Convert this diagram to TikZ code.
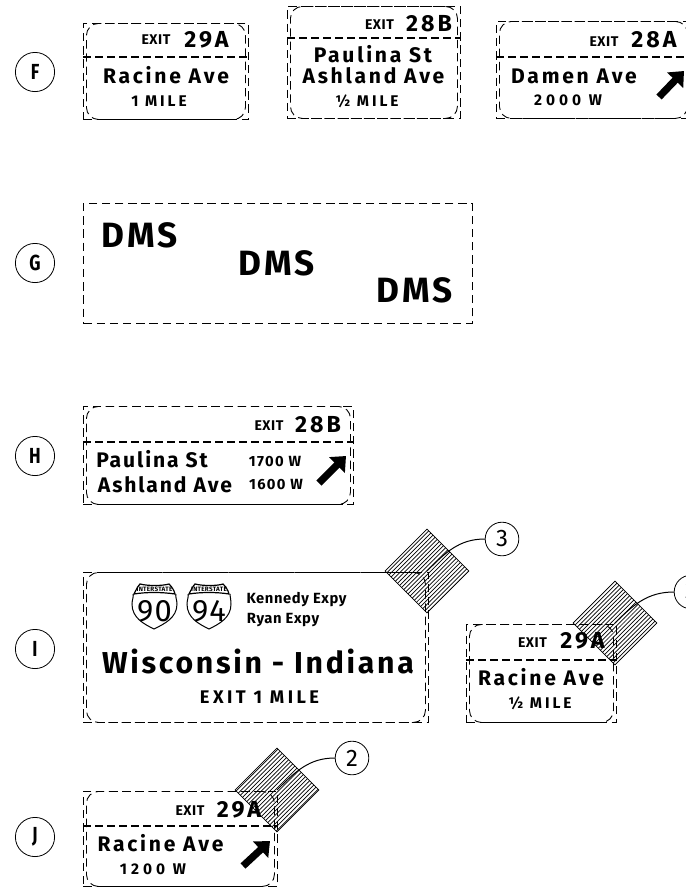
\documentclass[tikz,border=0pt]{standalone}
\usepackage{fontspec}
\setmainfont[LetterSpace=4]{Fira Sans}
\newfontfamily\midfont[LetterSpace=9]{Fira Sans}
\newfontfamily\signfont[LetterSpace=13]{Fira Sans}
\newfontfamily\widefont[LetterSpace=19]{Fira Sans}
\newfontfamily\xwidefont[LetterSpace=26]{Fira Sans}
\usepackage{tikz}
\usetikzlibrary{patterns, shapes, arrows.meta}
\pgfdeclarepatternformonly{signhatch}{\pgfqpoint{-1pt}{-1pt}}{\pgfqpoint{4pt}{4pt}}{\pgfqpoint{3pt}{3pt}}{\pgfsetlinewidth{0.5pt}\pgfpathmoveto{\pgfqpoint{0pt}{0pt}}\pgfpathlineto{\pgfqpoint{3.1pt}{3.1pt}}\pgfusepath{stroke}}

\begin{document}
\begin{tikzpicture}[x=0.25mm, y=-0.25mm]
		\tikzstyle{signo}=[draw=black, line width=0.22mm, dash pattern=on 2.1mm off 1.2mm, inner sep=0, anchor=north west]
		\tikzstyle{signi}=[draw=black, line width=0.22mm, dash pattern=on 2.1mm off 1.2mm, inner sep=0, rounded corners=3mm]
		\tikzstyle{divline}=[draw=black, line width=0.3mm, dash pattern=on 1.9mm off 1.1mm]
		
		\tikzstyle{lett}=[draw=black, circle, line width=0.2mm, minimum size=9.8mm, inner sep=0, font=\fontsize{15.5}{15.5}\selectfont\bfseries]
		\tikzstyle{num}=[draw=black, circle, line width=0.2mm, minimum size=8.4mm, inner sep=0, font=\fontsize{17}{17}\selectfont]
		
		\tikzstyle{txtexit}=[anchor=base, inner sep=0, font=\fontsize{10}{10}\selectfont\bfseries]
		\tikzstyle{txtnum}=[anchor=base, inner sep=0, font=\fontsize{16.5}{16.5}\signfont\selectfont\bfseries]
		\tikzstyle{txtmain}=[anchor=base, inner sep=0, font=\fontsize{15}{15}\signfont\selectfont\bfseries]
		\tikzstyle{txtmainb}=[anchor=base, inner sep=0, font=\fontsize{15}{15}\midfont\selectfont\bfseries]
		\tikzstyle{txtsub}=[anchor=base, inner sep=0, font=\fontsize{10.5}{10.5}\midfont\selectfont\bfseries]
		\tikzstyle{txtmile}=[anchor=base, inner sep=0, font=\fontsize{11}{11}\widefont\selectfont\bfseries]
		\tikzstyle{txtdist}=[anchor=base, inner sep=0, font=\fontsize{11}{11}\xwidefont\selectfont\bfseries]
		\tikzstyle{txtdms}=[anchor=base, inner sep=0, font=\fontsize{25}{25}\midfont\selectfont\bfseries]
		\tikzstyle{txtsmall}=[anchor=base, inner sep=0, font=\fontsize{10.5}{10.5}\selectfont\bfseries]
		
		\tikzstyle{hatchd}=[draw=black, diamond, shape aspect=1, line width=0.2mm, minimum size=21mm, inner sep=0, pattern=signhatch]
		\tikzstyle{leader}=[draw=black, line width=0.25mm]
		\tikzstyle{signarrow}=[line width=1.8mm, -{Triangle[length=3.2mm, width=5.4mm]}]
		
		\clip (0,0) rectangle (686,888);
		
		%% row F
		\node [lett] (LF) at (35,72) {\scalebox{.8}[1]{F}};
		\node [signo, minimum width=41.25mm, minimum height=24mm] (S1) at (83,23) {};
		\node [signi, minimum width=39.75mm, minimum height=24mm] (S1i) at (S1.center) {};
		\coordinate (D1) at (83,57);
		\draw [divline] (D1) -- (D1 -| S1.east);
		\node [txtexit] (E1) at (156,44) {EXIT};
		\node [txtnum] (N1) at (206.5,47) {29A};
		\node [txtmain] (R1) at (166,83) {Racine Ave};
		\node [txtmile] (M1) at (159,106) {1 MILE};
		
		\node [signo, minimum width=43.25mm, minimum height=28mm] (S2) at (287,6) {};
		\node [signi, minimum width=41.75mm, minimum height=28mm] (S2i) at (S2.center) {};
		\coordinate (D2) at (287,38);
		\draw [divline] (D2) -- (D2 -| S2.east);
		\node [txtexit] (E2) at (379.5,29) {EXIT};
		\node [txtnum] (N2) at (429,31) {28B};
		\node [txtmain] (R2) at (373,62) {Paulina St};
		\node [txtmain] (R2b) at (373.5,83) {Ashland Ave};
		\node [txtmile] (M2) at (367,106) {½ MILE};
		
		\node [signo, minimum width=48.5mm, minimum height=24.25mm] (S3) at (496,21) {};
		\node [signi, minimum width=47mm, minimum height=24.25mm] (S3i) at (S3.center) {};
		\coordinate (D3) at (496,57);
		\draw [divline] (D3) -- (D3 -| S3.east);
		\node [txtexit] (E3) at (604,46) {EXIT};
		\node [txtnum] (N3) at (654,47) {28A};
		\node [txtmain] (R3) at (574,83) {Damen Ave};
		\node [txtdist] (M3) at (568,105) {2000 W};
		\coordinate (A3a) at (659,97);
		\coordinate (A3b) at (684,71);
		\draw [signarrow] (A3a) -- (A3b);
		
		%% row G
		\node [lett] (LG) at (35,263) {\scalebox{.8}[1]{G}};
		\node [signo, minimum width=97.25mm, minimum height=30mm] (S4) at (83,203) {};
		\node [txtdms] (T4a) at (140,247) {DMS};
		\node [txtdms] (T4b) at (276.5,275) {DMS};
		\node [txtdms] (T4c) at (414.5,302) {DMS};
		
		%% row H
		\node [lett] (LH) at (35,456) {\scalebox{.8}[1]{H}};
		\node [signo, minimum width=67.5mm, minimum height=24.5mm] (S5) at (83,406) {};
		\node [signi, minimum width=66mm, minimum height=24.5mm] (S5i) at (S5.center) {};
		\coordinate (D5) at (83,442);
		\draw [divline] (D5) -- (D5 -| S5.east);
		\node [txtexit] (E5) at (269,430) {EXIT};
		\node [txtnum] (N5) at (318,432) {28B};
		\node [txtmainb] (R5) at (152,467) {Paulina St};
		\node [txtmainb] (R5b) at (165,492) {Ashland Ave};
		\node [txtsub] (M5) at (275,466) {1700 W};
		\node [txtsub] (M5b) at (276,489) {1600 W};
		\coordinate (A5a) at (319,483);
		\coordinate (A5b) at (346,456);
		\draw [signarrow] (A5a) -- (A5b);
		
		%% row I
		\node [lett] (LI) at (35,649) {\scalebox{.8}[1]{I}};
		\node [hatchd] (H6) at (427,571) {};
		\node [signo, minimum width=86.25mm, minimum height=37.5mm] (S6) at (83,572) {};
		\node [signi, minimum width=84.75mm, minimum height=37.5mm] (S6i) at (S6.center) {};
		\node [num] (C6) at (502,539) {3};
		\draw [leader] (C6.west) to[out=180, in=45] (H6.center);
		\begin{scope}[shift={(132,584)}]
			\draw [line width=0.25mm] (1,10) .. controls (2,12) and (0,16) .. (0,20) .. controls (0,34) and (12,40) .. (22,45) .. controls (32,40) and (45,34) .. (45,20) .. controls (45,16) and (43,12) .. (44,10);
			\draw [line width=0.3mm] (2,10) .. controls (4,6) and (6,2) .. (8,0) .. controls (16,2) and (30,2) .. (37,0) .. controls (40,3) and (42,6) .. (43,10) .. controls (30,8) and (14,8) .. (2,10) -- cycle;
			\node [inner sep=0, font=\fontsize{4.5}{4.5}\selectfont\bfseries] (B1) at (22.5,5.5) {INTERSTATE};
			\node [inner sep=0, font=\fontsize{22}{22}\selectfont] (N61) at (22.5,27) {90};
		\end{scope}
		\begin{scope}[shift={(187,584)}]
			\draw [line width=0.25mm] (1,10) .. controls (2,12) and (0,16) .. (0,20) .. controls (0,34) and (12,40) .. (22,45) .. controls (32,40) and (44,34) .. (44,20) .. controls (44,16) and (43,12) .. (43,10);
			\draw [line width=0.3mm] (2,10) .. controls (4,6) and (6,2) .. (8,0) .. controls (16,2) and (30,2) .. (36,0) .. controls (39,3) and (41,6) .. (42,10) .. controls (30,8) and (14,8) .. (2,10) -- cycle;
			\node [inner sep=0, font=\fontsize{4.5}{4.5}\selectfont\bfseries] (B2) at (22,5.5) {INTERSTATE};
			\node [inner sep=0, font=\fontsize{22}{22}\selectfont] (N62) at (22,27) {94};
		\end{scope}
		\node [txtsmall] (K6) at (296.5,603) {Kennedy Expy};
		\node [txtsmall] (K6b) at (283,623) {Ryan Expy};
		\node [txtdms, font=\fontsize{21.5}{21.5}\midfont\selectfont\bfseries] (R6) at (258,673) {Wisconsin - Indiana};
		\node [txtmile, font=\fontsize{13}{13}\widefont\selectfont\bfseries] (M6) at (259.5,703) {EXIT 1 MILE};
		
		\node [hatchd] (H7) at (615,623) {};
		\node [signo, minimum width=37.5mm, minimum height=24.5mm] (S7) at (466,624) {};
		\node [signi, minimum width=36mm, minimum height=24.5mm] (S7i) at (S7.center) {};
		\coordinate (D7) at (466,660);
		\draw [divline] (D7) -- (D7 -| S7.east);
		\node [num] (C7) at (691,592) {3};
		\draw [leader] (C7.west) to[out=180, in=45] (H7.center);
		\node [txtexit] (E7) at (532.5,647) {EXIT};
		\node [txtnum] (N7) at (582.5,648) {29A};
		\node [txtmain] (R7) at (541,685) {Racine Ave};
		\node [txtmile] (M7) at (540,708) {½ MILE};
		
		%% row J
		\node [lett] (LJ) at (35,837) {\scalebox{.8}[1]{J}};
		\node [hatchd] (H8) at (277,790) {};
		\node [signo, minimum width=48.5mm, minimum height=23.75mm] (S8) at (83,791) {};
		\node [signi, minimum width=47mm, minimum height=23.75mm] (S8i) at (S8.center) {};
		\coordinate (D8) at (83,826);
		\draw [divline] (D8) -- (D8 -| S8.east);
		\node [num] (C8) at (352,758) {2};
		\draw [leader] (C8.west) to[out=180, in=45] (H8.center);
		\node [txtexit] (E8) at (190,815) {EXIT};
		\node [txtnum] (N8) at (239,817) {29A};
		\node [txtmain] (R8) at (160.5,851) {Racine Ave};
		\node [txtdist] (M8) at (153,874) {1200 W};
		\coordinate (A8a) at (243,866);
		\coordinate (A8b) at (270,841);
		\draw [signarrow] (A8a) -- (A8b);
		
		\end{tikzpicture}
\end{document}
